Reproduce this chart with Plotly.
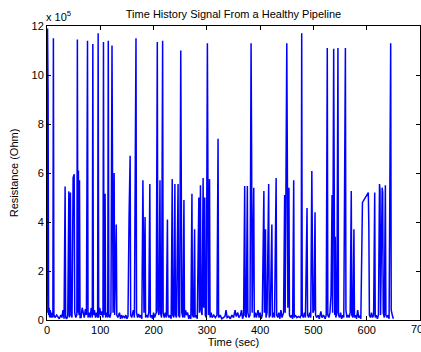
import plotly.graph_objects as go

# Time (s) and resistance (units of 1e5 Ohm)
time_s = [0, 1, 2, 3, 4, 5, 6, 8, 10, 11, 12, 13, 15, 18, 20, 23, 26, 28, 30, 32,
          34, 35, 37, 39, 41, 42, 44, 45, 47, 49, 51, 52, 54, 56, 57, 58, 59, 60, 61, 62,
          64, 66, 68, 70, 72, 74, 76, 77, 79, 81, 83, 85, 86, 87, 89, 91, 93, 95, 96, 97,
          99, 101, 103, 105, 106, 107, 109, 110, 112, 114, 115, 116, 118, 120, 122, 123, 124, 126, 127, 130,
          131, 133, 136, 138, 140, 142, 144, 146, 148, 150, 152, 154, 156, 157, 159, 162, 164, 167, 168, 170,
          172, 174, 176, 178, 180, 182, 184, 185, 187, 189, 191, 193, 194, 196, 198, 200, 202, 205, 207, 208,
          210, 212, 213, 215, 217, 218, 220, 222, 224, 226, 227, 229, 231, 233, 235, 236, 238, 240, 241, 243,
          246, 247, 249, 251, 252, 253, 255, 257, 258, 260, 262, 264, 266, 268, 270, 272, 273, 275, 277, 278,
          280, 282, 285, 286, 288, 289, 291, 293, 294, 296, 297, 299, 301, 302, 303, 305, 306, 308, 310, 313,
          316, 319, 321, 322, 325, 328, 331, 334, 336, 338, 341, 344, 347, 350, 353, 355, 358, 360, 363, 365,
          367, 369, 371, 372, 374, 376, 377, 379, 381, 383, 384, 385, 388, 389, 391, 393, 396, 398, 400, 402,
          404, 407, 408, 410, 411, 413, 416, 417, 419, 422, 423, 425, 427, 430, 431, 433, 435, 437, 439, 441,
          444, 446, 447, 449, 450, 451, 452, 454, 455, 457, 459, 461, 463, 464, 466, 469, 472, 475, 477, 478,
          479, 481, 483, 485, 488, 489, 491, 493, 495, 497, 498, 499, 501, 503, 504, 506, 509, 511, 514, 516,
          519, 522, 524, 526, 527, 529, 531, 533, 535, 536, 538, 539, 540, 541, 542, 544, 546, 547, 549, 551,
          553, 555, 557, 560, 561, 563, 565, 567, 569, 571, 572, 574, 576, 577, 579, 581, 583, 585, 587, 589,
          592, 603, 604, 605, 607, 609, 611, 613, 615, 616, 618, 620, 622, 624, 625, 626, 628, 629, 630, 631,
          633, 635, 636, 638, 640, 642, 645, 646, 648, 650]

resistance_e5 = [0.3, 11.9, 9.3, 0.2, 0.5, 0.1, 0.4, 0.1, 0.3, 0.1, 11.5, 0.2, 0.1, 0.2, 0.15, 0.05, 0.2, 0.1, 0.4, 0.05,
                 5.45, 0.1, 0.05, 0.2, 5.25, 0.1, 5.2, 0.2, 0.1, 5.8, 5.95, 0.3, 0.1, 0.2, 11.45, 0.3, 6.1, 0.2, 5.7, 0.1,
                 0.1, 0.5, 0.3, 0.1, 0.45, 0.2, 11.4, 0.1, 0.3, 0.1, 0.5, 0.1, 11.27, 0.2, 0.4, 0.1, 0.3, 0.1, 11.7, 0.1,
                 0.5, 0.2, 0.35, 0.1, 11.35, 0.2, 5.15, 0.1, 0.3, 0.1, 11.4, 0.2, 0.1, 0.3, 11.2, 5.5, 0.3, 6.0, 0.2, 3.9,
                 0.2, 0.1, 0.3, 0.05, 0.2, 0.1, 0.15, 0.1, 0.2, 0.05, 0.15, 4.2, 6.7, 0.2, 0.1, 0.4, 0.1, 11.5, 0.3, 0.1,
                 0.25, 0.1, 0.2, 0.05, 5.7, 0.3, 4.2, 0.1, 0.2, 0.1, 0.3, 5.55, 0.1, 0.2, 0.05, 0.3, 0.1, 0.3, 11.35, 0.4,
                 0.2, 5.7, 0.3, 0.1, 11.4, 0.3, 0.1, 0.3, 0.1, 4.1, 0.2, 0.1, 0.2, 0.05, 5.75, 0.2, 0.1, 5.55, 0.2, 0.1,
                 5.55, 0.2, 0.1, 11.0, 6.8, 0.3, 0.1, 4.9, 0.1, 0.4, 0.2, 0.3, 0.05, 0.2, 0.05, 5.15, 0.2, 0.1, 3.7, 0.1,
                 0.2, 0.05, 5.0, 0.3, 5.5, 0.4, 0.2, 5.8, 0.5, 5.0, 0.2, 0.1, 11.3, 6.3, 0.2, 5.75, 0.1, 0.3, 0.1, 0.2,
                 0.1, 0.2, 7.4, 0.1, 0.2, 0.05, 0.1, 0.15, 0.4, 0.1, 0.15, 0.05, 0.2, 0.1, 0.4, 0.15, 0.3, 0.1, 0.2, 0.4,
                 0.05, 0.2, 5.47, 0.2, 0.1, 5.47, 0.3, 0.1, 0.2, 11.3, 6.8, 0.3, 5.4, 0.1, 0.3, 0.1, 0.4, 0.1, 0.3, 0.05,
                 0.2, 5.27, 0.3, 3.7, 0.1, 0.3, 5.55, 0.1, 0.2, 3.9, 0.1, 0.3, 0.1, 5.8, 0.2, 0.1, 0.3, 0.05, 0.4, 0.1,
                 0.3, 5.1, 0.3, 5.3, 11.3, 6.8, 0.5, 5.4, 0.2, 0.1, 0.2, 0.05, 5.7, 0.1, 0.2, 0.1, 0.15, 0.1, 0.2, 11.7,
                 0.2, 0.1, 0.3, 0.1, 4.57, 0.2, 0.1, 0.3, 0.1, 6.08, 4.1, 0.3, 0.4, 4.4, 0.2, 0.1, 0.2, 0.05, 0.35, 0.1,
                 0.2, 0.05, 0.2, 11.1, 0.2, 0.1, 0.3, 1.0, 5.1, 0.3, 11.07, 4.9, 0.2, 3.4, 0.1, 0.3, 11.1, 0.2, 0.1, 0.3,
                 0.05, 0.2, 0.1, 11.1, 0.4, 0.1, 0.2, 0.1, 0.3, 5.27, 0.2, 0.1, 3.7, 0.1, 0.2, 0.05, 0.4, 0.1, 0.15, 0.05,
                 4.8, 5.2, 3.8, 0.2, 0.1, 0.3, 0.1, 0.2, 5.2, 0.1, 0.2, 0.05, 0.2, 5.55, 5.3, 0.2, 5.1, 5.4, 5.2, 0.3,
                 0.1, 5.5, 0.2, 0.1, 0.2, 0.05, 11.3, 0.4, 0.2, 0.05]

x_ticks = [0, 100, 200, 300, 400, 500, 600, 700]
y_ticks = [0, 2, 4, 6, 8, 10, 12]

W, H = 421, 352
L, R, T, B = 47, 1, 26, 32
FONT = "Liberation Sans, Arial, sans-serif"

fig = go.Figure()
fig.add_trace(go.Scatter(x=time_s, y=resistance_e5, mode="lines",
                         line=dict(color="#0000ff", width=1.5), showlegend=False))

axis_common = dict(showline=True, linecolor="black", linewidth=1, mirror="allticks",
                   ticks="inside", ticklen=4, tickcolor="black", showgrid=False,
                   zeroline=False, tickfont=dict(size=11, color="black", family=FONT))

# the last x tick label (700) sits on the plot edge; plotly drops it, so draw it as text
fig.update_xaxes(range=[0, 700], tickvals=x_ticks[:-1], ticktext=[str(v) for v in x_ticks[:-1]],
                 title=dict(text="Time (sec)", font=dict(size=11, color="black", family=FONT),
                            standoff=2),
                 **axis_common)
fig.update_yaxes(range=[0, 12], tickvals=y_ticks, ticktext=[str(v) for v in y_ticks],
                 title=dict(text="Resistance (Ohm)", font=dict(size=11, color="black", family=FONT),
                            standoff=10),
                 **axis_common)

fig.update_layout(
    width=W, height=H,
    margin=dict(l=L, r=R, t=T, b=B, autoexpand=False),
    paper_bgcolor="white", plot_bgcolor="white",
    title=dict(text="Time History Signal From a Healthy Pipeline",
               x=(L + (W - L - R) / 2) / W, xanchor="center",
               y=1 - 14 / H, yanchor="middle",
               font=dict(size=11, color="black", family=FONT)),
    annotations=[
        dict(text="x 10<sup>5</sup>", xref="paper", yref="paper", x=0, y=1,
             xanchor="left", yanchor="bottom", yshift=1, xshift=-3, showarrow=False,
             font=dict(size=11, color="black", family=FONT)),
        dict(text=str(x_ticks[-1]), xref="x", yref="paper", x=x_ticks[-1], y=0,
             xanchor="center", yanchor="top", yshift=-1, showarrow=False,
             font=dict(size=11, color="black", family=FONT)),
    ],
)

fig.write_html("out.html")
